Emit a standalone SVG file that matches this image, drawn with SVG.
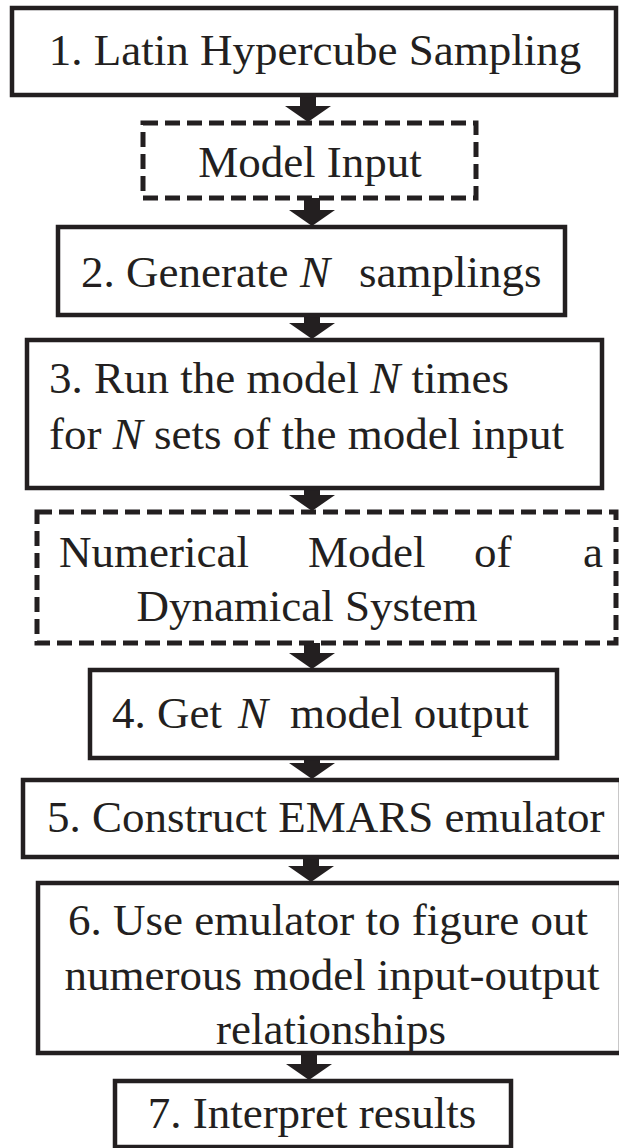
<svg xmlns="http://www.w3.org/2000/svg" width="619" height="1148" viewBox="0 0 619 1148">
<style>
.box{fill:#ffffff;stroke:#231f20;stroke-width:4.5}
.dash{fill:#ffffff;stroke:#231f20;stroke-width:5;stroke-dasharray:15 7}
.t{font-family:"Liberation Serif","Times New Roman",serif;font-size:45px;fill:#231f20}
.c{text-anchor:middle}
.i{font-style:italic}
.arr{fill:#231f20}
</style>
<rect width="619" height="1148" fill="#ffffff"/>
<g id="connectors">
<path class="arr" d="M300 95 H316 V106 H331 L308 122 L285 106 H300 Z"/>
<path class="arr" d="M304 198 H320 V210 H335 L312 226 L289 210 H304 Z"/>
<path class="arr" d="M304 315 H320 V323 H335 L312 339 L289 323 H304 Z"/>
<path class="arr" d="M304 488 H320 V495 H335 L312 511 L289 495 H304 Z"/>
<path class="arr" d="M304 643 H320 V653 H335 L312 669 L289 653 H304 Z"/>
<path class="arr" d="M304 758 H320 V763 H335 L312 779 L289 763 H304 Z"/>
<path class="arr" d="M303 857 H319 V866 H334 L311 882 L288 866 H303 Z"/>
<path class="arr" d="M301 1053 H317 V1064 H332 L309 1080 L286 1064 H301 Z"/>
</g>
<g id="n1">
<rect class="box" x="12" y="8" width="604" height="87"/>
<text class="t c" x="315" y="65">1. Latin Hypercube Sampling</text>
</g>
<g id="n_input">
<rect class="dash" x="143" y="123" width="333" height="75"/>
<text class="t c" x="310" y="177">Model Input</text>
</g>
<g id="n2">
<rect class="box" x="58" y="227" width="507" height="88"/>
<text class="t" y="287"><tspan x="81">2. Generate</tspan><tspan class="i" x="300">N</tspan><tspan x="359">samplings</tspan></text>
</g>
<g id="n3">
<rect class="box" x="27" y="340" width="575" height="148"/>
<text class="t" y="393"><tspan x="49">3. Run the model </tspan><tspan class="i">N</tspan><tspan>  times</tspan></text>
<text class="t" y="449"><tspan x="49">for </tspan><tspan class="i">N</tspan><tspan> sets of the model input</tspan></text>
</g>
<g id="n_model">
<rect class="dash" x="37" y="512" width="579" height="131"/>
<text class="t" y="567"><tspan x="59">Numerical</tspan><tspan x="308">Model</tspan><tspan x="474">of</tspan><tspan x="583">a</tspan></text>
<text class="t c" x="307" y="621">Dynamical System</text>
</g>
<g id="n4">
<rect class="box" x="90" y="670" width="467" height="88"/>
<text class="t" y="728"><tspan x="112">4. Get</tspan><tspan class="i" x="238">N</tspan><tspan x="290">model output</tspan></text>
</g>
<g id="n5">
<rect class="box" x="23" y="780" width="598" height="77"/>
<text class="t" x="47" y="832">5. Construct EMARS emulator</text>
</g>
<g id="n6">
<rect class="box" x="38" y="883" width="583" height="170"/>
<text class="t c" x="328" y="935">6. Use emulator to figure out</text>
<text class="t c" x="332" y="990">numerous model input-output</text>
<text class="t c" x="331" y="1044">relationships</text>
</g>
<g id="n7">
<rect class="box" x="115" y="1081" width="396" height="66"/>
<text class="t c" x="312" y="1128">7. Interpret results</text>
</g>
</svg>
